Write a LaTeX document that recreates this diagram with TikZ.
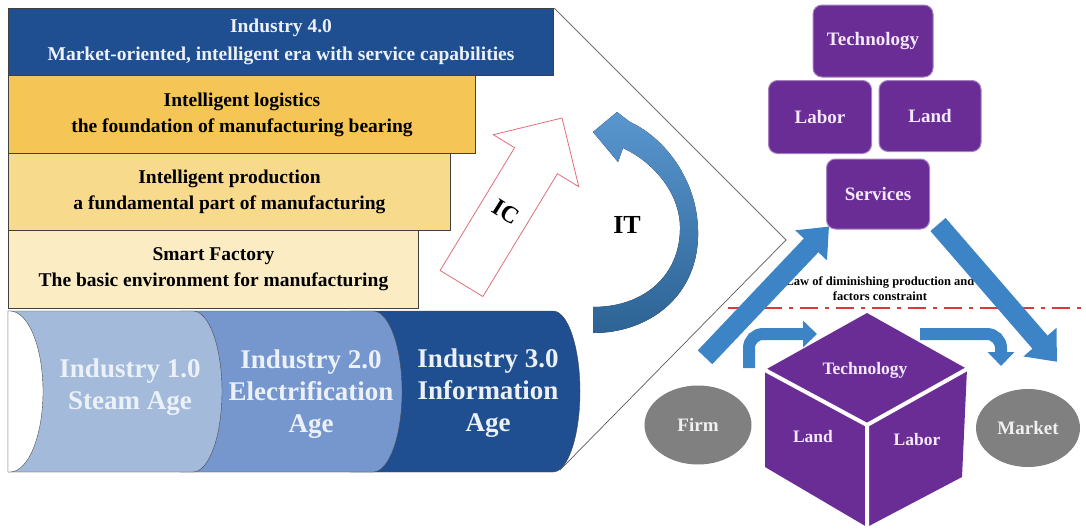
\documentclass[tikz,border=0pt]{standalone}
\usepackage{fontspec}
\setmainfont{Liberation Serif}
\usepackage{tikz}
\usetikzlibrary{arrows.meta,shapes.geometric}

\definecolor{indblue}{RGB}{31,79,145}
\definecolor{goldA}{RGB}{245,197,85}
\definecolor{goldB}{RGB}{248,218,140}
\definecolor{goldC}{RGB}{251,236,195}
\definecolor{cylA}{RGB}{163,186,219}
\definecolor{cylB}{RGB}{118,151,206}
\definecolor{arrowblue}{RGB}{60,132,198}
\definecolor{factorpurple}{RGB}{106,45,150}
\definecolor{lineRed}{RGB}{217,58,58}
\definecolor{icred}{RGB}{224,110,125}
\definecolor{paletext}{RGB}{236,241,248}
\definecolor{lilac}{RGB}{243,232,252}

\newcommand{\txt}[2]{\fontsize{#1}{#2}\selectfont\bfseries}

\begin{document}
\begin{tikzpicture}[x=1pt,y=-1pt,
  layer/.style={draw=black!75,line width=1pt,inner sep=0pt,anchor=north west,align=center,font=\txt{19.5}{26}},
  era/.style={align=center,text=paletext,font=\txt{27}{32}},
  factor/.style={draw=factorpurple!60!white,line width=1pt,fill=factorpurple,rounded corners=9pt,text=lilac,font=\txt{19}{22}},
  agent/.style={ellipse,fill=black!50,text=white!94!black,font=\txt{19}{21}},
  bigarrow/.style={arrowblue,line width=20pt,-{Triangle[width=42pt,length=26pt]}},
  elbow/.style={arrowblue,line width=12pt,rounded corners=14pt,-{Triangle[width=26pt,length=14pt]}}]
  \useasboundingbox (0,0) rectangle (1086,530);

  % left: the four layers of industry 4.0
  \node[layer,fill=indblue,text=paletext,minimum width=545pt,minimum height=67pt,font=\txt{19.5}{28}] (ind4) at (8,8)
    {Industry 4.0\\Market-oriented, intelligent era with service capabilities};
  \node[layer,fill=goldA,minimum width=467pt,minimum height=78pt] (logis) at (8,75)
    {Intelligent logistics\\the foundation of manufacturing bearing};
  \node[layer,fill=goldB,minimum width=442pt,minimum height=77pt] (prod) at (8,153)
    {Intelligent production\\a fundamental part of manufacturing};
  \node[layer,fill=goldC,minimum width=410pt,minimum height=78pt] (smart) at (8,230)
    {Smart Factory\\The basic environment for manufacturing};

  % cylinder
  \draw[black!70,fill=indblue] (350,311) -- (553,311) arc[start angle=-90,end angle=90,x radius=27,y radius=80.5] -- (350,472) -- cycle;
  \draw[black!70,fill=cylB] (180,311) -- (373,311) arc[start angle=-90,end angle=90,x radius=29,y radius=80.5] -- (180,472) -- cycle;
  \draw[black!70,fill=cylA] (8,311) -- (193,311) arc[start angle=-90,end angle=90,x radius=29,y radius=80.5] -- (8,472) -- cycle;
  \draw[black!70,fill=white] (8,311) -- (10,311) arc[start angle=-90,end angle=90,x radius=33,y radius=80.5] -- (8,472) -- cycle;
  \node[era] (ind1) at (130,387) {Industry 1.0\\Steam Age};
  \node[era] (ind2) at (311,394) {Industry 2.0\\Electrification\\Age};
  \node[era] (ind3) at (488,393) {Industry 3.0\\Information\\Age};

  % zoom wedge
  \coordinate (apex) at (786,240);
  \coordinate (wedgeend) at (560,470);
  \draw[black!65,line width=0.7pt] (ind4.north east) -- (apex) -- (wedgeend);

  % IC and IT
  \draw[icred,line width=0.8pt,fill=white] (440.1,270.5) -- (514.6,147.7) -- (493.3,134.7) -- (562,118)
    -- (578.8,186.7) -- (557.4,173.7) -- (482.9,296.5) -- cycle;
  \node[rotate=-32,inner sep=1pt,font=\txt{24}{26}] (ic) at (506,212) {IC};
  \fill[top color=arrowblue!85!white,bottom color=arrowblue!75!black]
    (593,333) .. controls (650,333) and (700,295) .. (698,230)
    .. controls (697,180) and (665,138) .. (630,122) -- (617,112) -- (593,132) -- (618,162) -- (623,148)
    .. controls (655,163) and (681,195) .. (680,230)
    .. controls (679,275) and (645,307) .. (593,307) -- cycle;
  \node[font=\txt{26}{28}] (it) at (627,225) {IT};

  % right: factors
  \node[factor,minimum width=120pt,minimum height=72pt] (tech) at (873,41) {Technology};
  \node[factor,minimum width=103pt,minimum height=73pt] (labor) at (820,117) {Labor};
  \node[factor,minimum width=102pt,minimum height=71pt] (land) at (930,116) {Land};
  \node[factor,minimum width=103pt,minimum height=70pt] (serv) at (878,194) {Services};

  \node[agent,minimum width=107pt,minimum height=79pt] (firm) at (698,425) {Firm};
  \node[agent,minimum width=104pt,minimum height=78pt] (market) at (1028,428) {Market};

  \draw[lineRed,line width=2pt,dash pattern=on 18pt off 7pt on 4pt off 7pt] (728,308) -- (1086,308);
  \node[font=\txt{12.5}{15},align=center] (law) at (880,289) {Law of diminishing production and\\factors constraint};

  \draw[bigarrow] ([shift={(7,-28)}]firm.north) -- ([shift={(3,-3)}]serv.south west);
  \draw[bigarrow] ([shift={(8,-5)}]serv.south east) -- ([shift={(29,-27)}]market.north);

  % cube
  \coordinate (ct) at (867,313);
  \coordinate (cl) at (765,370);
  \coordinate (cr) at (967,369);
  \coordinate (cc) at (867,425);
  \coordinate (clb) at (765,467);
  \coordinate (crb) at (962,477);
  \coordinate (cb) at (867,527);
  \fill[factorpurple] (ct) -- (cr) -- (crb) -- (cb) -- (clb) -- (cl) -- cycle;
  \draw[white,line width=4pt] (cl) -- (cc) -- (cr) (cc) -- (cb);
  \node[text=lilac,font=\txt{17.5}{20}] (cubetech) at (865,370) {Technology};
  \node[text=lilac,font=\txt{17.5}{20}] (cubeland) at (813,437) {Land};
  \node[text=lilac,font=\txt{17.5}{20}] (cubelabor) at (917,440) {Labor};

  \coordinate (inflow) at (749,368);
  \coordinate (inend) at (817,334);
  \coordinate (outflow) at (920,334);
  \coordinate (outend) at (1001,366);
  \draw[elbow] (inflow) |- (inend);
  \draw[elbow] (outflow) -| (outend);
\end{tikzpicture}
\end{document}
